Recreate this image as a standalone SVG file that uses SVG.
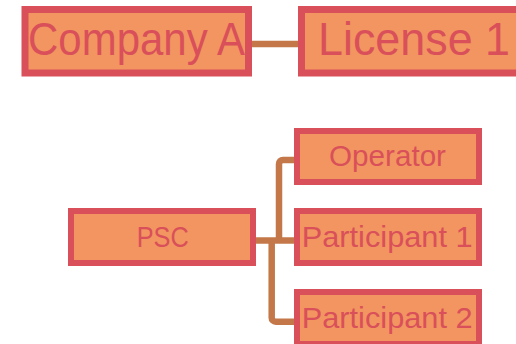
<svg xmlns="http://www.w3.org/2000/svg" width="516" height="344" viewBox="0 0 516 344">
<style>
.box{fill:#F29560;stroke:#D9505A}
.big{stroke-width:7}
.small{stroke-width:6}
.t{font-family:"Liberation Sans",Arial,sans-serif;fill:#D9505A}
.conn{fill:none;stroke:#C4784A;stroke-width:6.5}
</style>
<g id="connectors">
<path class="conn" d="M252 44 H298"/>
<path class="conn" d="M256 240.5 H294"/>
<path class="conn" d="M279 240.5 V164 a4 4 0 0 1 4 -4 H294"/>
<path class="conn" d="M271.7 240.5 V317.7 a4 4 0 0 0 4 4 H294"/>
</g>
<g id="companyA">
<rect class="box big" x="25" y="9.5" width="223.5" height="63.5"/>
<text class="t" x="28" y="55" font-size="46" textLength="217" lengthAdjust="spacingAndGlyphs">Company A</text>
</g>
<g id="license1">
<rect class="box big" x="301.5" y="9.5" width="224" height="63.5"/>
<text class="t" x="318" y="55" font-size="46" textLength="192" lengthAdjust="spacingAndGlyphs">License 1</text>
</g>
<g id="psc">
<rect class="box small" x="71" y="211" width="182" height="52"/>
<text class="t" x="136.7" y="247.3" font-size="29" textLength="52" lengthAdjust="spacingAndGlyphs">PSC</text>
</g>
<g id="operator">
<rect class="box small" x="297" y="131" width="182" height="51"/>
<text class="t" x="329" y="165.7" font-size="29" textLength="117" lengthAdjust="spacingAndGlyphs">Operator</text>
</g>
<g id="participant1">
<rect class="box small" x="297" y="211" width="182" height="52"/>
<text class="t" x="301.7" y="247.3" font-size="29" textLength="171" lengthAdjust="spacingAndGlyphs">Participant 1</text>
</g>
<g id="participant2">
<rect class="box small" x="297" y="292" width="182" height="52"/>
<text class="t" x="301.7" y="328.3" font-size="29" textLength="171" lengthAdjust="spacingAndGlyphs">Participant 2</text>
</g>
</svg>
